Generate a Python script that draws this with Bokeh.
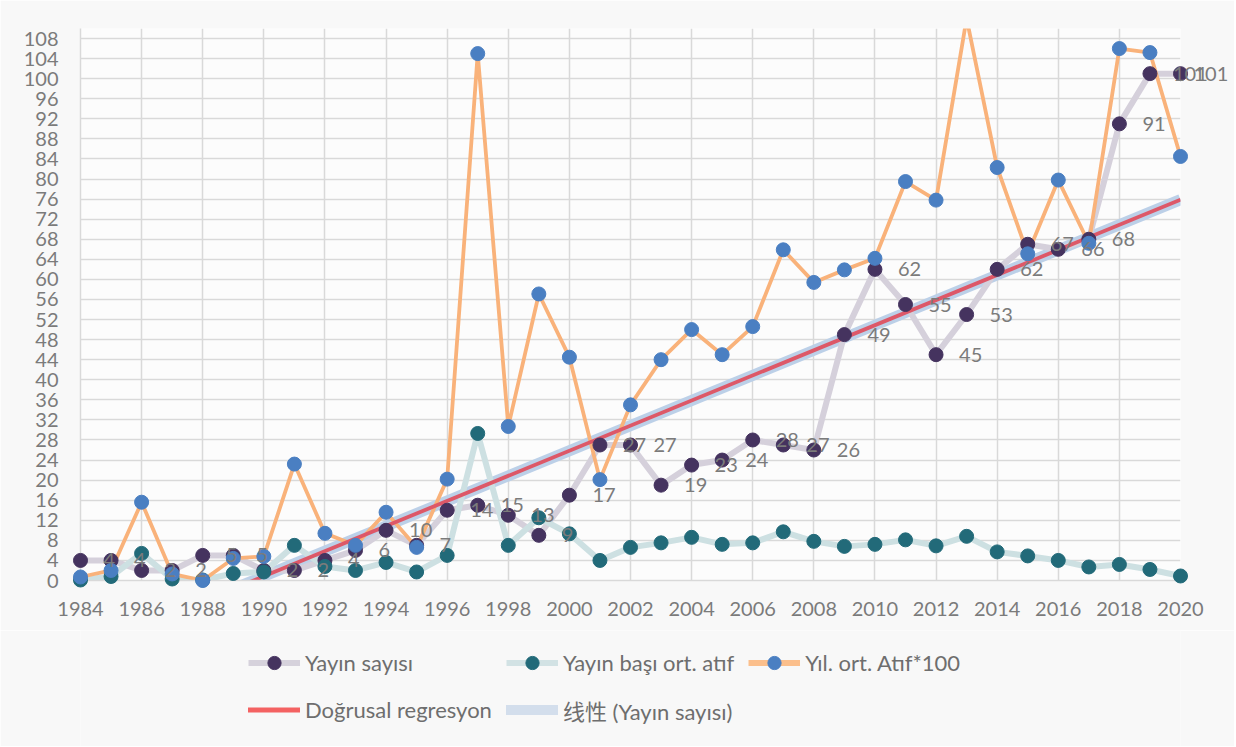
from bokeh.plotting import figure
from bokeh.layouts import column
from bokeh.models import (ColumnDataSource, Range1d, FixedTicker, Legend, LegendItem,
                          CDSView, BooleanFilter)
from bokeh.core.properties import value
from bokeh.embed import file_html
from bokeh.resources import INLINE
import numpy as np

# ---------------- data ----------------
years = list(range(1984, 2021))
yayin_sayisi = [4, 4, 2, 2, 5, 5, 2, 2, 4, 6,
                10, 7, 14, 15, 13, 9, 17, 27, 27, 19,
                23, 24, 28, 27, 26, 49, 62, 55, 45, 53,
                62, 67, 66, 68, 91, 101, 101]
yayin_basi_ort_atif = [0.1, 0.8, 5.4, 0.3, 0.1, 1.4, 1.7, 7.0, 2.8, 2.0,
                       3.6, 1.7, 5.0, 29.3, 7.0, 12.5, 9.3, 4.0, 6.6, 7.5,
                       8.6, 7.2, 7.5, 9.7, 7.8, 6.8, 7.2, 8.1, 6.9, 8.8,
                       5.7, 4.9, 4.0, 2.7, 3.2, 2.2, 0.9]
yil_ort_atif_100 = [0.7, 2.0, 15.6, 1.3, 0.0, 4.4, 4.8, 23.2, 9.4, 7.0,
                    13.6, 6.6, 20.2, 105.0, 30.7, 57.1, 44.5, 20.1, 35.0, 44.0,
                    50.0, 45.0, 50.6, 65.9, 59.4, 61.9, 64.2, 79.5, 75.8, 112.0,
                    82.3, 65.1, 79.8, 67.2, 106.0, 105.2, 84.5]
x_ticks = list(range(1984, 2021, 2))
y_ticks = list(range(0, 109, 4))
labels = ["Yayın sayısı", "Yayın başı ort. atıf", "Yıl. ort. Atıf*100",
          "Doğrusal regresyon", "线性 (Yayın sayısı)"]

Y_MAX = 110
FONT = "Lato, 'Noto Sans CJK SC'"
BG = "#f8f8f8"

# linear regression of Yayın sayısı
slope, intercept = np.polyfit(years, yayin_sayisi, 1)
trend_x = [years[0], years[-1]]
trend_y = [slope * x + intercept for x in trend_x]

label_dx = [23] * len(years)
label_dx[-1] = 13

src = ColumnDataSource(dict(
    x=years, a=yayin_sayisi, b=yayin_basi_ort_atif, c=yil_ort_atif_100,
    txt=[str(v) for v in yayin_sayisi], dx=label_dx))
tsrc = ColumnDataSource(dict(x=trend_x, y=trend_y))

# ---------------- main chart ----------------
p = figure(width=1234, height=630, output_backend="svg", toolbar_location=None,
           x_range=Range1d(1984, 2020), y_range=Range1d(0, Y_MAX),
           min_border_left=80, min_border_right=54, min_border_top=28,
           min_border_bottom=50,
           background_fill_color="#fcfcfc", border_fill_color=BG)
p.outline_line_color = None

for ax, tk in ((p.xaxis, x_ticks), (p.yaxis, y_ticks)):
    ax.ticker = FixedTicker(ticks=tk)
    ax.axis_line_color = "#d9d9d9"
    ax.axis_line_width = 1.5
    ax.major_tick_line_color = None
    ax.minor_tick_line_color = None
    ax.major_tick_in = 0
    ax.major_tick_out = 0
    ax.major_label_text_font = FONT
    ax.major_label_text_font_size = "20px"
    ax.major_label_text_color = "#7b7b7b"
p.yaxis.major_label_standoff = 22
p.xaxis.major_label_standoff = 21

p.xgrid.ticker = FixedTicker(ticks=x_ticks)
p.ygrid.ticker = FixedTicker(ticks=y_ticks)
for g in (p.xgrid, p.ygrid):
    g.grid_line_color = "#d9d9d9"
    g.grid_line_width = 1.5

STY_TREND = dict(line_color="#bcd0e8", line_width=11)
STY_A = dict(line_color="#d5d0db", line_width=6)
STY_B = dict(line_color="#cde0e2", line_width=6)
STY_C = dict(line_color="#f9b27a", line_width=3.8)
STY_REG = dict(line_color="#dd5868", line_width=3.8)
MK_A = dict(fill_color="#45335f", line_color="#45335f")
MK_B = dict(fill_color="#226a79", line_color="#226a79")
MK_C = dict(fill_color="#4a7fc2", line_color="#4a7fc2")

p.line("x", "y", source=tsrc, **STY_TREND)
p.line("x", "a", source=src, **STY_A)
p.line("x", "b", source=src, **STY_B)
p.line("x", "c", source=src, **STY_C)
p.line("x", "y", source=tsrc, **STY_REG)

p.scatter("x", "a", source=src, size=14, level="annotation", **MK_A)
p.scatter("x", "b", source=src, size=14, level="annotation", **MK_B)
view_c = CDSView(filter=BooleanFilter([v <= Y_MAX for v in yil_ort_atif_100]))
p.scatter("x", "c", source=src, view=view_c, size=14, level="annotation", **MK_C)

p.text("x", "a", text="txt", source=src, x_offset="dx", text_font=value("Lato"),
       text_font_size="20px", text_color="#7b7b7b", text_baseline="middle",
       text_align="left", level="annotation")

# ---------------- legend strip ----------------
# same series drawn again, but outside this strip's ranges (clipped), only to feed the legend
q = figure(width=1234, height=116, output_backend="svg", toolbar_location=None,
           x_range=Range1d(0, 1), y_range=Range1d(0, 1),
           x_axis_type=None, y_axis_type=None, min_border=0,
           background_fill_color=BG, border_fill_color=BG)
q.outline_line_color = None
q.grid.visible = False

g_a = [q.line("x", "a", source=src, line_color="#d6d2dc", line_width=6),
       q.scatter("x", "a", source=src, size=12, **MK_A)]
g_b = [q.line("x", "b", source=src, line_color="#d2e2e4", line_width=6),
       q.scatter("x", "b", source=src, size=12, **MK_B)]
g_c = [q.line("x", "c", source=src, line_color="#fbbf8c", line_width=6),
       q.scatter("x", "c", source=src, size=12, **MK_C)]
g_r = [q.line("x", "y", source=tsrc, line_color="#f46262", line_width=5, line_cap="round")]
g_t = [q.line("x", "y", source=tsrc, line_color="#d3deec", line_width=10, line_cap="round")]

legend = Legend(items=[
    LegendItem(label=labels[0], renderers=g_a),
    LegendItem(label=labels[1], renderers=g_b),
    LegendItem(label=labels[2], renderers=g_c),
    LegendItem(label=labels[3], renderers=g_r),
    LegendItem(label=labels[4], renderers=g_t),
], orientation="horizontal", ncols=3, location=(168, 20),
    label_text_font=FONT, label_text_font_size="22px", label_text_color="#6e6e6e",
    glyph_width=52, glyph_height=33, label_height=33, label_standoff=5,
    spacing=14, padding=0, margin=0, border_line_color=None,
    background_fill_alpha=0)
q.add_layout(legend, "center")

layout = column(p, q, spacing=0)
open("out.html", "w").write(file_html(layout, INLINE))
